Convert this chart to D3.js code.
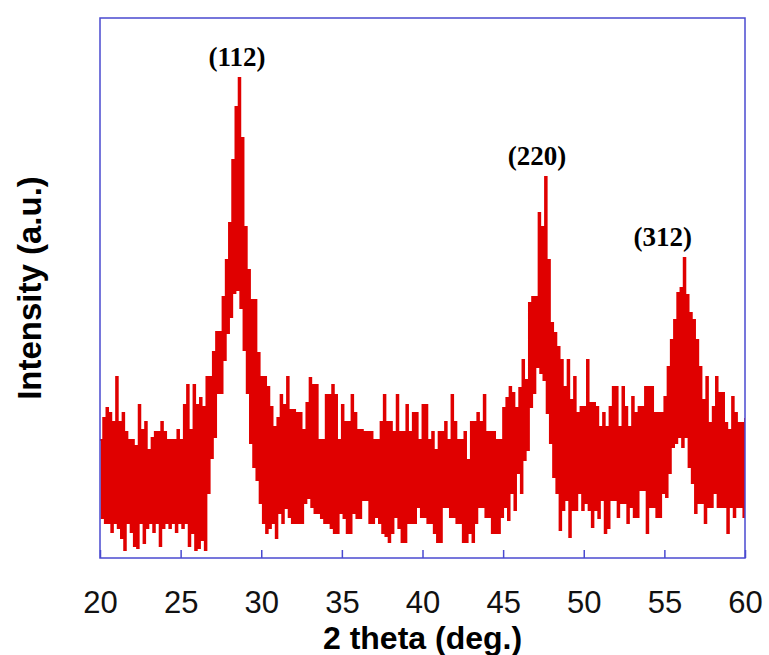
<!DOCTYPE html>
<html>
<head>
<meta charset="utf-8">
<script src="https://cdn.jsdelivr.net/npm/d3@7"></script>
<style>
  body { margin: 0; background: #fff; }
</style>
</head>
<body>
<svg id="chart" width="769" height="655"></svg>
<script>
// XRD scan, 2 theta from 20 to 60 deg in 0.1 deg steps
const thetaStart = 20
const thetaStep = 0.1
// one row per degree: x.0, x.1 ... x.9
const intensity = [
  118, 40, 140, 35, 150, 35, 145, 26, 136, 35,
  181, 30, 136, 20, 145, 8, 126, 35, 118, 26,
  118, 12, 112, 10, 153, 35, 128, 15, 136, 30,
  108, 35, 120, 26, 126, 35, 126, 12, 136, 30,
  126, 35, 118, 30, 118, 35, 118, 26, 128, 35,
  118, 30, 153, 35, 173, 12, 128, 25, 173, 8,
  153, 10, 160, 18, 151, 8, 181, 65, 181, 100,
  206, 121, 226, 165, 226, 165, 261, 198, 298, 225,
  335, 241, 398, 265, 451, 268, 480, 250, 420, 208,
  331, 165, 288, 115, 258, 91, 258, 78, 205, 55,
  181, 35, 181, 25, 171, 30, 151, 35, 131, 20,
  140, 45, 163, 35, 153, 50, 181, 41, 148, 35,
  148, 35, 145, 35, 145, 35, 128, 55, 155, 60,
  180, 51, 173, 45, 173, 45, 118, 40, 118, 35,
  163, 35, 163, 30, 173, 25, 163, 25, 118, 45,
  153, 40, 136, 25, 136, 25, 163, 45, 145, 40,
  128, 40, 128, 58, 126, 58, 126, 35, 126, 35,
  118, 41, 118, 35, 136, 25, 163, 22, 136, 16,
  136, 25, 126, 41, 163, 30, 126, 16, 126, 16,
  153, 35, 126, 35, 145, 35, 145, 51, 118, 41,
  153, 41, 153, 35, 118, 35, 126, 25, 108, 16,
  126, 16, 126, 51, 136, 51, 118, 41, 163, 41,
  136, 35, 118, 35, 118, 16, 126, 16, 98, 25,
  136, 16, 136, 35, 145, 51, 136, 51, 163, 41,
  126, 41, 126, 25, 126, 25, 118, 25, 118, 41,
  150, 51, 160, 38, 171, 65, 165, 48, 150, 85,
  170, 65, 198, 98, 178, 108, 255, 151, 261, 165,
  261, 191, 345, 185, 331, 178, 381, 145, 298, 115,
  235, 81, 225, 65, 211, 28, 198, 48, 171, 58,
  198, 21, 158, 48, 181, 48, 145, 65, 151, 48,
  151, 55, 198, 48, 155, 31, 155, 48, 151, 40,
  131, 58, 145, 25, 131, 30, 151, 58, 171, 58,
  171, 41, 131, 55, 171, 55, 151, 35, 131, 51,
  161, 41, 145, 41, 151, 68, 151, 68, 171, 25,
  171, 51, 171, 51, 145, 41, 145, 41, 145, 65,
  161, 61, 191, 85, 218, 111, 238, 115, 265, 121,
  270, 111, 300, 121, 263, 91, 245, 75, 238, 45,
  218, 55, 191, 55, 158, 35, 181, 51, 135, 51,
  151, 65, 181, 51, 165, 51, 165, 51, 135, 25,
  128, 51, 161, 41, 145, 51, 135, 51, 135, 41,
  140
]
const xTicks = [20, 25, 30, 35, 40, 45, 50, 55, 60]
const peakNames = ["(112)", "(220)", "(312)"]
const peakLabelTheta = [28.5, 47.1, 54.9]
const peakTheta = [28.6, 47.6, 56.2]

const margin = { top: 18, right: 24, bottom: 97, left: 100 }
const width = 769
const height = 655

const svg = d3.select("#chart")

const data = intensity.map((v, i) => ({ theta: thetaStart + i * thetaStep, v: v }))

const x = d3.scaleLinear()
    .domain([20, 60])
    .range([margin.left, width - margin.right])

const y = d3.scaleLinear()
    .domain([0, 540])
    .range([height - margin.bottom, margin.top])

svg.append("clipPath")
    .attr("id", "plot-clip")
    .append("rect")
    .attr("x", margin.left)
    .attr("y", margin.top)
    .attr("width", width - margin.left - margin.right)
    .attr("height", height - margin.top - margin.bottom)

const line = d3.line()
    .x(d => x(d.theta))
    .y(d => y(d.v))
    .curve(d3.curveStepAfter)

svg.append("path")
    .datum(data)
    .attr("clip-path", "url(#plot-clip)")
    .attr("fill", "none")
    .attr("stroke", "#e00000")
    .attr("stroke-width", 1.9)
    .attr("d", line)

// blue frame
svg.append("rect")
    .attr("x", margin.left)
    .attr("y", margin.top)
    .attr("width", width - margin.left - margin.right)
    .attr("height", height - margin.top - margin.bottom)
    .attr("fill", "none")
    .attr("stroke", "#4a4ad0")
    .attr("stroke-width", 1.5)

const xAxis = svg.append("g")
    .attr("transform", `translate(0, ${height - margin.bottom})`)
    .call(d3.axisBottom(x).tickValues(xTicks).tickSizeInner(-8).tickSizeOuter(0).tickPadding(33))

xAxis.select(".domain").remove()
xAxis.selectAll(".tick line").attr("stroke", "#4a4ad0").attr("stroke-width", 1.5)
xAxis.selectAll(".tick text")
    .attr("fill", "#111")
    .style("font-family", "'Liberation Sans', Arial, sans-serif")
    .style("font-size", "31px")

svg.append("text")
    .attr("x", (margin.left + width - margin.right) / 2)
    .attr("y", 649)
    .attr("text-anchor", "middle")
    .style("font-family", "'Liberation Sans', Arial, sans-serif")
    .style("font-weight", "bold")
    .style("font-size", "32px")
    .text("2 theta (deg.)")

svg.append("text")
    .attr("transform", `translate(41, ${(margin.top + height - margin.bottom) / 2}) rotate(-90)`)
    .attr("text-anchor", "middle")
    .style("font-family", "'Liberation Sans', Arial, sans-serif")
    .style("font-weight", "bold")
    .style("font-size", "33px")
    .text("Intensity (a.u.)")

// hkl labels above each peak
peakNames.forEach((name, k) => {
    const top = d3.max(data.filter(d => Math.abs(d.theta - peakTheta[k]) < 0.35), d => d.v)
    svg.append("text")
        .attr("x", x(peakLabelTheta[k]))
        .attr("y", y(top) - 12)
        .attr("text-anchor", "middle")
        .style("font-family", "'Liberation Serif', 'Times New Roman', serif")
        .style("font-weight", "bold")
        .style("font-size", "27px")
        .text(name)
})
</script>
</body>
</html>
